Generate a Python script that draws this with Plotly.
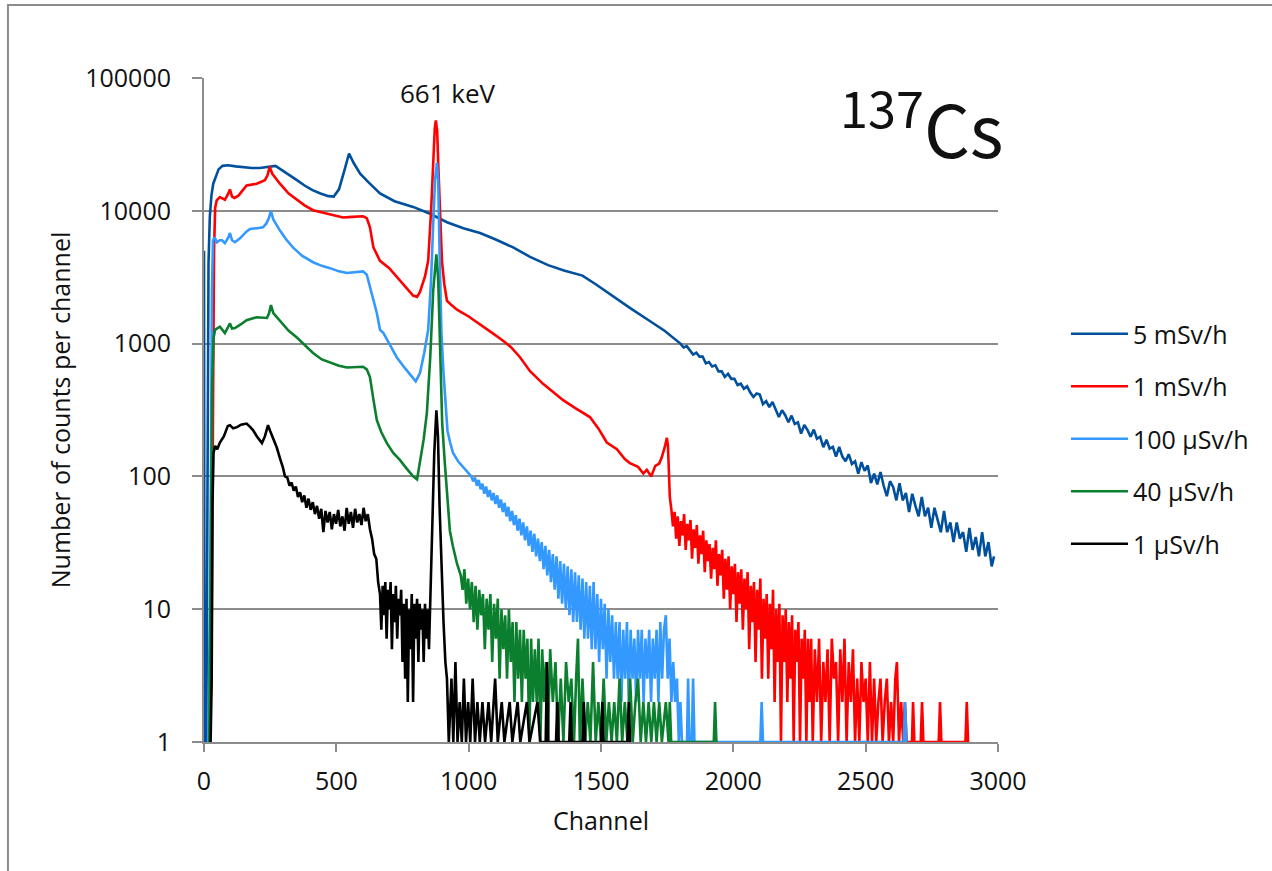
import plotly.graph_objects as go

# ---------------- data (channel, counts per channel) ----------------
series_names = ["5 mSv/h", "1 mSv/h", "100 µSv/h", "40 µSv/h", "1 µSv/h"]
series_colors = ["#00509E", "#FF0000", "#3399FF", "#0B7F2D", "#000000"]

s_5msv = [
    (0, 5000), (2, 1), (9, 1), (13, 400), (17, 4000), (22, 9000), (28, 13000), (35, 16000),
    (45, 18500), (55, 20500), (70, 21800), (90, 22000), (120, 21600), (150, 21200),
    (180, 21000), (210, 21000), (240, 21300), (270, 21800), (290, 20500), (320, 18800),
    (351, 17000), (380, 15500), (410, 14300), (440, 13500), (470, 12900), (490, 12800),
    (510, 14500), (530, 20000), (548, 27000), (565, 23000), (590, 19000), (620, 16500),
    (665, 13500), (720, 11800), (790, 10700), (854, 9500), (918, 8200), (980, 7400),
    (1043, 6800), (1100, 6100), (1168, 5300), (1232, 4500), (1300, 3900), (1360, 3550),
    (1400, 3400), (1430, 3250), (1480, 2800), (1540, 2300), (1609, 1860), (1680, 1500),
    (1740, 1250), (1800, 1000), (1812, 934), (1824, 956), (1836, 884), (1848, 827),
    (1860, 854), (1872, 798), (1884, 800), (1896, 710), (1908, 727), (1920, 673),
    (1932, 687), (1944, 618), (1956, 619), (1968, 561), (1980, 592), (1992, 543),
    (2004, 544), (2016, 488), (2028, 499), (2040, 457), (2052, 477), (2064, 428),
    (2076, 396), (2088, 421), (2100, 413), (2112, 350), (2124, 369), (2136, 332),
    (2148, 363), (2160, 313), (2172, 280), (2184, 315), (2196, 289), (2208, 256),
    (2220, 287), (2232, 248), (2244, 255), (2256, 210), (2268, 244), (2280, 224),
    (2292, 199), (2304, 225), (2316, 192), (2328, 199), (2340, 166), (2352, 189),
    (2364, 162), (2376, 167), (2388, 141), (2400, 167), (2412, 141), (2424, 130),
    (2436, 147), (2448, 124), (2460, 130), (2472, 105), (2484, 128), (2496, 110),
    (2508, 121), (2520, 89), (2532, 105), (2544, 87), (2556, 108), (2568, 85),
    (2580, 71), (2592, 92), (2604, 83), (2616, 66), (2628, 89), (2640, 66), (2652, 75),
    (2664, 54), (2676, 74), (2688, 60), (2700, 50), (2712, 70), (2724, 50), (2736, 58),
    (2748, 41), (2760, 58), (2772, 46), (2784, 38), (2796, 55), (2808, 38), (2820, 45),
    (2832, 32), (2844, 45), (2856, 34), (2868, 38), (2880, 27), (2892, 41), (2904, 28),
    (2916, 35), (2928, 25), (2940, 38), (2952, 25), (2964, 32), (2976, 21), (2985, 25),
]

s_1msv = [
    (20, 1), (28, 3), (34, 300), (38, 5000), (42, 10500), (48, 12000), (60, 12700),
    (79, 12100), (92, 13500), (98, 14500), (106, 12800), (115, 12500), (130, 13000),
    (161, 15500), (199, 16000), (230, 17000), (240, 18500), (248, 21500), (258, 19000),
    (287, 16000), (320, 13500), (351, 12100), (380, 11000), (412, 10100), (445, 9700),
    (476, 9400), (525, 8900), (560, 9000), (601, 9100), (615, 8800), (627, 7500),
    (640, 5300), (665, 4200), (700, 3700), (728, 3200), (760, 2700), (790, 2300),
    (805, 2250), (816, 2450), (835, 3200), (847, 4200), (858, 10000), (865, 24000),
    (872, 42000), (876, 48000), (881, 40000), (886, 20000), (893, 8000), (899, 4200),
    (908, 2800), (918, 2100), (935, 1950), (956, 1800), (1000, 1600), (1043, 1400),
    (1090, 1200), (1130, 1050), (1160, 940), (1194, 790), (1232, 620), (1280, 500),
    (1320, 430), (1357, 375), (1400, 330), (1458, 280), (1490, 230), (1522, 180),
    (1560, 160), (1590, 135), (1609, 126), (1640, 118), (1660, 105), (1673, 112),
    (1690, 100), (1705, 120), (1720, 125), (1730, 140), (1742, 170), (1749, 195),
    (1753, 170), (1756, 120), (1760, 70), (1766, 56), (1772, 42), (1778, 54), (1784, 34),
    (1790, 50), (1796, 30), (1802, 46), (1808, 36), (1814, 52), (1820, 28), (1826, 44),
    (1832, 33), (1838, 47), (1844, 24), (1850, 40), (1856, 29), (1862, 43), (1868, 22),
    (1874, 36), (1880, 26), (1886, 39), (1892, 19), (1898, 33), (1904, 23), (1910, 31),
    (1916, 17), (1922, 29), (1928, 20), (1934, 33), (1940, 15), (1946, 26), (1952, 18),
    (1958, 28), (1964, 12), (1970, 24), (1976, 14), (1982, 25), (1988, 10), (1994, 21),
    (2000, 13), (2006, 22), (2012, 8), (2018, 19), (2024, 11), (2030, 20), (2036, 7),
    (2042, 17), (2048, 10), (2054, 19), (2060, 5), (2066, 15), (2072, 8), (2078, 16),
    (2084, 4), (2090, 14), (2096, 7), (2102, 17), (2108, 3), (2114, 12), (2120, 6),
    (2126, 13), (2132, 3), (2138, 11), (2144, 5), (2150, 14), (2156, 2), (2162, 10),
    (2168, 4), (2174, 11), (2180, 1), (2186, 9), (2192, 4), (2198, 10), (2204, 2),
    (2210, 8), (2216, 3), (2222, 9), (2228, 1), (2234, 7), (2240, 4), (2246, 8),
    (2252, 1), (2258, 6), (2264, 3), (2270, 7), (2276, 1), (2282, 6), (2288, 2),
    (2294, 6), (2300, 1), (2308, 5), (2316, 2), (2324, 6), (2332, 1), (2340, 4),
    (2348, 2), (2356, 5), (2364, 1), (2372, 6), (2380, 3), (2388, 4), (2396, 1),
    (2404, 5), (2412, 2), (2420, 6), (2428, 1), (2436, 4), (2444, 2), (2452, 5),
    (2460, 1), (2468, 3), (2476, 1), (2484, 4), (2492, 2), (2500, 3), (2508, 1),
    (2516, 4), (2524, 1), (2532, 3), (2540, 1), (2548, 2), (2556, 3), (2564, 1),
    (2572, 2), (2580, 3), (2588, 1), (2596, 2), (2604, 1), (2612, 3), (2618, 4),
    (2626, 1), (2634, 2), (2642, 1), (2648, 2), (2655, 1), (2675, 1), (2679, 2),
    (2684, 1), (2708, 1), (2713, 2), (2718, 1), (2776, 1), (2781, 2), (2786, 1),
    (2877, 1), (2882, 2), (2887, 1),
]

s_100usv = [
    (16, 1), (24, 20), (30, 2500), (34, 6000), (40, 6300), (49, 5800), (60, 6000),
    (68, 6000), (79, 5700), (92, 6300), (98, 6800), (106, 6000), (117, 5800), (136, 6200),
    (161, 7000), (174, 7300), (200, 7400), (223, 7500), (235, 8000), (245, 8800),
    (253, 10000), (262, 8600), (287, 7100), (310, 6100), (336, 5300), (370, 4600),
    (412, 4100), (445, 3850), (476, 3700), (510, 3500), (540, 3400), (575, 3450),
    (601, 3500), (615, 3300), (627, 2700), (640, 2100), (653, 1700), (665, 1270),
    (678, 1200), (700, 1000), (728, 790), (760, 650), (790, 550), (800, 520), (816, 600),
    (832, 850), (847, 1270), (858, 3000), (866, 8000), (873, 17000), (880, 23000),
    (885, 17000), (890, 5000), (897, 1200), (905, 600), (912, 350), (920, 220),
    (930, 180), (941, 150), (960, 130), (979, 118), (1010, 100), (1017, 92), (1024, 98),
    (1031, 85), (1038, 94), (1045, 80), (1052, 88), (1059, 74), (1066, 84), (1073, 70),
    (1080, 79), (1087, 66), (1094, 75), (1101, 62), (1108, 72), (1115, 58), (1122, 67),
    (1129, 54), (1136, 63), (1143, 50), (1150, 59), (1157, 46), (1164, 55), (1171, 43),
    (1178, 51), (1185, 39), (1192, 48), (1199, 36), (1206, 45), (1213, 33), (1220, 42),
    (1227, 30), (1234, 39), (1241, 27), (1248, 37), (1255, 25), (1262, 34), (1269, 23),
    (1276, 32), (1283, 20), (1290, 30), (1297, 18), (1304, 28), (1311, 16), (1318, 26),
    (1325, 14), (1332, 25), (1339, 12), (1346, 23), (1353, 11), (1360, 22), (1367, 10),
    (1374, 21), (1381, 9), (1388, 20), (1395, 8), (1402, 19), (1409, 8), (1416, 18),
    (1423, 7), (1430, 17), (1437, 6), (1444, 16), (1451, 6), (1458, 15), (1465, 5),
    (1472, 16), (1479, 5), (1486, 13), (1493, 4), (1500, 12), (1507, 5), (1514, 11),
    (1521, 3), (1528, 10), (1535, 4), (1542, 9), (1549, 3), (1556, 8), (1563, 3),
    (1570, 8), (1577, 2), (1584, 7), (1591, 3), (1598, 8), (1605, 2), (1612, 7),
    (1619, 3), (1626, 6), (1633, 2), (1640, 7), (1647, 3), (1654, 7), (1661, 2),
    (1668, 6), (1675, 3), (1682, 7), (1689, 2), (1696, 6), (1703, 3), (1710, 7),
    (1717, 2), (1724, 8), (1731, 3), (1738, 7), (1745, 9), (1752, 3), (1759, 6),
    (1766, 2), (1773, 4), (1780, 2), (1787, 3), (1794, 1), (1800, 2), (1806, 1),
    (1825, 1), (1829, 3), (1834, 1), (1843, 1), (1848, 3), (1853, 1), (2102, 1),
    (2107, 2), (2112, 1), (2644, 1), (2649, 2), (2654, 1),
]

s_40usv = [
    (20, 1), (26, 20), (31, 500), (36, 1100), (42, 1270), (50, 1300), (60, 1340),
    (79, 1200), (92, 1350), (98, 1420), (106, 1300), (117, 1310), (140, 1400),
    (161, 1500), (199, 1580), (238, 1560), (246, 1700), (253, 1950), (262, 1700),
    (287, 1500), (320, 1250), (351, 1110), (380, 980), (412, 850), (445, 760),
    (476, 720), (510, 680), (540, 660), (575, 670), (601, 670), (615, 640), (627, 560),
    (640, 380), (653, 265), (670, 215), (691, 178), (715, 150), (740, 133), (765, 115),
    (790, 100), (805, 95), (816, 125), (830, 190), (842, 300), (855, 800), (866, 2500),
    (878, 4700), (885, 3000), (892, 800), (900, 250), (910, 125), (920, 70), (929, 39),
    (940, 30), (956, 22), (970, 18), (977, 14), (984, 20), (991, 11), (998, 17),
    (1005, 10), (1012, 16), (1019, 8), (1026, 15), (1033, 7), (1040, 14), (1047, 9),
    (1054, 13), (1061, 5), (1068, 12), (1075, 7), (1082, 13), (1089, 4), (1096, 11),
    (1103, 6), (1110, 12), (1117, 3), (1124, 10), (1131, 5), (1138, 9), (1145, 3),
    (1152, 10), (1159, 4), (1166, 8), (1173, 2), (1180, 8), (1187, 3), (1194, 7),
    (1201, 2), (1208, 7), (1215, 3), (1222, 6), (1229, 1), (1236, 6), (1243, 2),
    (1250, 5), (1257, 2), (1264, 6), (1271, 1), (1278, 5), (1285, 2), (1292, 4),
    (1299, 1), (1308, 5), (1318, 2), (1328, 4), (1338, 1), (1348, 3), (1358, 1),
    (1368, 4), (1378, 2), (1388, 3), (1398, 1), (1406, 3), (1413, 6), (1420, 1),
    (1430, 3), (1440, 1), (1450, 2), (1460, 1), (1470, 4), (1480, 1), (1490, 2),
    (1500, 1), (1510, 3), (1520, 1), (1530, 2), (1540, 1), (1550, 2), (1560, 1),
    (1570, 3), (1580, 1), (1590, 2), (1600, 1), (1610, 3), (1620, 1), (1630, 2),
    (1640, 3), (1650, 1), (1660, 2), (1670, 1), (1680, 2), (1690, 1), (1700, 2),
    (1710, 1), (1720, 2), (1730, 1), (1745, 2), (1755, 1), (1760, 2), (1765, 1),
    (1926, 1), (1931, 2), (1936, 1),
]

s_1usv = [
    (25, 1), (29, 3), (32, 60), (36, 150), (42, 170), (50, 160), (60, 180), (75, 200),
    (90, 240), (98, 243), (110, 230), (125, 235), (140, 245), (161, 250), (175, 235),
    (185, 223), (200, 200), (210, 190), (219, 178), (230, 200), (242, 243), (250, 220),
    (262, 190), (275, 165), (288, 135), (298, 117), (306, 100), (315, 98), (323, 85),
    (331, 90), (339, 78), (347, 84), (355, 70), (363, 76), (371, 64), (379, 72),
    (387, 58), (395, 68), (403, 56), (411, 64), (419, 52), (427, 60), (435, 48),
    (443, 57), (451, 38), (459, 55), (467, 45), (475, 54), (483, 40), (491, 52),
    (499, 44), (507, 56), (515, 42), (523, 50), (531, 39), (539, 58), (547, 44),
    (555, 54), (563, 41), (571, 57), (579, 45), (587, 52), (595, 43), (603, 58),
    (611, 46), (619, 52), (627, 40), (635, 34), (643, 26), (651, 24), (658, 16),
    (665, 13), (670, 7), (675, 15), (680, 9), (685, 16), (690, 6), (695, 14), (700, 10),
    (705, 16), (710, 5), (715, 13), (720, 8), (725, 15), (730, 6), (735, 12), (740, 9),
    (745, 14), (750, 4), (755, 11), (760, 3), (765, 12), (770, 2), (775, 10), (780, 5),
    (785, 13), (790, 2), (795, 11), (800, 6), (805, 12), (810, 4), (815, 11), (820, 7),
    (825, 10), (830, 4), (835, 11), (840, 6), (845, 10), (850, 5), (855, 11), (862, 30),
    (870, 150), (878, 315), (884, 200), (890, 60), (897, 22), (905, 8), (912, 4),
    (918, 3), (925, 1), (935, 3), (942, 1), (950, 4), (958, 1), (966, 2), (974, 1),
    (982, 3), (990, 1), (998, 2), (1006, 1), (1015, 3), (1024, 1), (1033, 2), (1042, 1),
    (1052, 2), (1062, 1), (1075, 2), (1085, 1), (1100, 3), (1110, 1), (1125, 2),
    (1135, 1), (1155, 2), (1165, 1), (1185, 2), (1195, 1), (1220, 2), (1230, 1),
    (1260, 2), (1270, 1), (1291, 1), (1296, 4), (1301, 1), (1330, 1), (1335, 2),
    (1340, 1), (1380, 1), (1385, 2), (1390, 1), (1430, 1), (1435, 2), (1440, 1),
    (1500, 1), (1505, 2), (1510, 1), (1600, 1), (1605, 2), (1610, 1),
]

series_data = [s_5msv, s_1msv, s_100usv, s_40usv, s_1usv]

x_ticks = [0, 500, 1000, 1500, 2000, 2500, 3000]
y_ticks = [1, 10, 100, 1000, 10000, 100000]
y_ticktext = ["1", "10", "100", "1000", "10000", "100000"]

# ---------------- figure ----------------
FONT = "Open Sans, sans-serif"
GRID = "#8C8C8C"
TXT = "#111111"

fig = go.Figure()
for name, color, data in zip(series_names, series_colors, series_data):
    xs = [p[0] for p in data]
    ys = [p[1] for p in data]
    fig.add_trace(go.Scatter(
        x=xs, y=ys, mode="lines", name=name, legendgroup=name,
        line=dict(color=color, width=2.6),
    ))

fig.update_layout(
    width=1272, height=871,
    margin=dict(l=204, r=274, t=78, b=129, autoexpand=False),
    paper_bgcolor="white", plot_bgcolor="white",
    font=dict(family=FONT, size=25, color=TXT),
    showlegend=True,
    legend=dict(
        x=1.0856, y=0.649, xanchor="left", yanchor="top",
        font=dict(family=FONT, size=25, color=TXT),
        tracegroupgap=17, itemwidth=57, bgcolor="rgba(0,0,0,0)",
    ),
    xaxis=dict(
        range=[0, 3000], tickvals=x_ticks, ticks="outside", ticklen=8, tickwidth=2,
        tickcolor=GRID, showline=True, linecolor=GRID, linewidth=2, showgrid=False,
        zeroline=False, tickfont=dict(size=25, color=TXT), ticklabelstandoff=8,
        title=dict(text="Channel", font=dict(size=25, color=TXT), standoff=16),
    ),
    yaxis=dict(
        type="log", range=[0, 5], tickvals=y_ticks, ticktext=y_ticktext,
        ticks="outside", ticklen=10, tickwidth=2, tickcolor=GRID,
        showline=True, linecolor=GRID, linewidth=2,
        showgrid=True, gridcolor=GRID, gridwidth=2, zeroline=False,
        tickfont=dict(size=25, color=TXT), ticklabelstandoff=16,
        title=dict(text="Number of counts per channel", font=dict(size=25, color=TXT),
                   standoff=7),
    ),
    annotations=[
        dict(text="661 keV", xref="paper", yref="paper", x=0.3067, y=0.977,
             xanchor="center", yanchor="middle", showarrow=False,
             font=dict(family=FONT, size=26, color=TXT)),
        dict(text="<sup>137</sup>Cs", xref="paper", yref="paper", x=1.01, y=0.93,
             xanchor="right", yanchor="middle", showarrow=False,
             font=dict(family="Liberation Sans Narrow, Noto Sans CJK SC, sans-serif",
                       size=72, color=TXT)),
    ],
    shapes=[
        dict(type="rect", xref="paper", yref="paper", x0=-0.2469, x1=1.36, y0=-0.3, y1=1.1099,
             line=dict(color="#8C8C8C", width=2), fillcolor="rgba(0,0,0,0)", layer="below"),
    ],
)

fig.write_html("out.html")
